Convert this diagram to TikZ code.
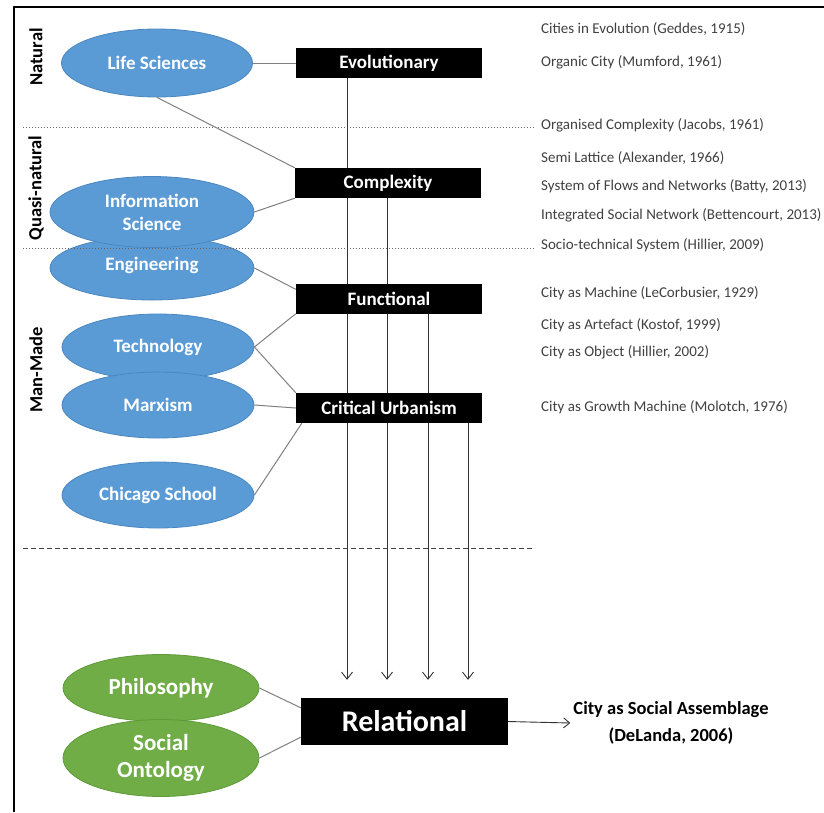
\documentclass[tikz,border=0pt]{standalone}
\usepackage{fontspec}
\setmainfont{Carlito}
\usetikzlibrary{arrows.meta,shapes.geometric}
\definecolor{bluefill}{HTML}{5B9BD5}
\definecolor{blueline}{HTML}{4A86BF}
\definecolor{greenfill}{HTML}{70AD47}
\definecolor{greenline}{HTML}{5E9A38}
\definecolor{reftext}{HTML}{404040}
\definecolor{conn}{HTML}{808080}
\begin{document}
\begin{tikzpicture}[x=1pt,y=-1pt,
  ell/.style={ellipse, fill=bluefill, draw=blueline, line width=0.8pt, text=white,
    font=\bfseries\fontsize{19}{23}\selectfont, inner sep=0pt, align=center},
  gell/.style={ell, fill=greenfill, draw=greenline, font=\bfseries\fontsize{23}{27}\selectfont},
  blackbox/.style={fill=black, text=white, font=\bfseries\fontsize{19}{22}\selectfont,
    minimum width=186pt, minimum height=30pt, inner sep=0pt},
  reflabel/.style={anchor=west, text=reftext, font=\fontsize{15}{17}\selectfont, inner sep=0pt},
  side/.style={rotate=90, font=\bfseries\fontsize{18.5}{20}\selectfont, inner sep=0pt},
  connector/.style={draw=conn, line width=1pt},
  flow/.style={draw=black!80, line width=0.9pt},
  sep/.style={draw=black!60, line width=1pt, dotted},
]
\useasboundingbox (0,0) rectangle (824,812);
% frame
\draw[line width=2pt] (14,812) -- (14,7) -- (824,7);

% side labels
\node[side] (lnat) at (36,57) {Natural};
\node[side] (lquasi) at (36,188) {Quasi-natural};
\node[side] (lman) at (36,370) {Man-Made};

% ellipses
\node[ell, minimum width=191pt, minimum height=68pt] (life) at (157,63) {Life Sciences};
\node[ell, minimum width=204pt, minimum height=64pt] (eng) at (152,268) {};
\node[ell, fill=none, draw=none] (engtext) at (152,265) {Engineering};
\node[ell, minimum width=204pt, minimum height=71pt] (info) at (152,212) {Information\\Science};
\node[ell, minimum width=192pt, minimum height=66pt] (tech) at (158,347) {Technology};
\node[ell, minimum width=192pt, minimum height=66pt] (marx) at (158,405) {Marxism};
\node[ell, minimum width=192pt, minimum height=66pt] (chic) at (158,495) {Chicago School};
\node[gell, minimum width=196pt, minimum height=67pt] (phil) at (161,688) {Philosophy};
\node[gell, minimum width=196pt, minimum height=77pt] (soc) at (161,758) {Social\\Ontology};

% separators
\coordinate (s1a) at (23,127); \coordinate (s1b) at (535,127);
\coordinate (s2a) at (23,248); \coordinate (s2b) at (535,248);
\coordinate (s3a) at (23,548); \coordinate (s3b) at (535,548);
\draw[sep] (s1a) -- (s1b);
\draw[sep] (s2a) -- (s2b);
\draw[draw=black!75, line width=1pt, dash pattern=on 5pt off 3pt] (s3a) -- (s3b);

% x positions of the flows
\coordinate (x1) at (347,0);
\coordinate (x2) at (387,0);
\coordinate (x3) at (428,0);
\coordinate (x4) at (468,0);

% black boxes
\node[blackbox] (evo) at (389,63) {Evolutionary};
\node[blackbox] (cplx) at (388,183) {Complexity};
\node[blackbox] (func) at (389,298.5) {Functional};
\node[blackbox] (crit) at (389,408) {Critical Urbanism};
\node[fill=black, text=white, font=\bfseries\fontsize{30}{32}\selectfont,
  minimum width=207pt, minimum height=47pt, inner sep=0pt] (rel) at (404.5,721.5) {Relational};

% flows
\draw[flow, -{Straight Barb[length=7pt,width=11pt]}, shorten >=18pt] (x1 |- evo.south) -- (x1 |- rel.north);
\draw[flow, -{Straight Barb[length=7pt,width=11pt]}, shorten >=18pt] (x2 |- cplx.south) -- (x2 |- rel.north);
\draw[flow, -{Straight Barb[length=7pt,width=11pt]}, shorten >=18pt] (x3 |- func.south) -- (x3 |- rel.north);
\draw[flow, -{Straight Barb[length=7pt,width=11pt]}, shorten >=18pt] (x4 |- crit.south) -- (x4 |- rel.north);

% redraw boxes on top
\node[blackbox] at (evo) {Evolutionary};
\node[blackbox] at (cplx) {Complexity};
\node[blackbox] at (func) {Functional};
\node[blackbox] at (crit) {Critical Urbanism};

% connectors
\draw[connector] (life.east) -- (evo.west);
\draw[connector] (life.south) -- (cplx.north west);
\draw[connector] (info.east) -- (cplx.south west);
\draw[connector] (eng.east) -- ([yshift=-6pt]func.north west);
\draw[connector] (tech.east) -- (func.south west);
\draw[connector] (tech.east) -- (crit.north west);
\draw[connector] (marx.east) -- (crit.west);
\draw[connector] (chic.east) -- ([xshift=6pt]crit.south west);
\draw[connector] (phil.east) -- ([yshift=-10pt]rel.north west);
\draw[connector] (soc.east) -- ([yshift=8pt]rel.south west);

% output
\node[font=\bfseries\fontsize{18.5}{27}\selectfont, align=center, inner sep=0pt] (cas) at (671,723) {City as Social Assemblage\\(DeLanda, 2006)};
\draw[flow, -{Straight Barb[length=6pt,width=10pt]}] (rel.east) -- ([xshift=-3pt]cas.west);

% references
\node[reflabel] (r1) at (541,29) {Cities in Evolution (Geddes, 1915)};
\node[reflabel] (r2) at (541,62) {Organic City (Mumford, 1961)};
\node[reflabel] (r3) at (541,125) {Organised Complexity (Jacobs, 1961)};
\node[reflabel] (r4) at (541,158) {Semi Lattice (Alexander, 1966)};
\node[reflabel] (r5) at (541,186) {System of Flows and Networks (Batty, 2013)};
\node[reflabel] (r6) at (541,215) {Integrated Social Network (Bettencourt, 2013)};
\node[reflabel] (r7) at (541,245) {Socio-technical System (Hillier, 2009)};
\node[reflabel] (r8) at (541,293) {City as Machine (LeCorbusier, 1929)};
\node[reflabel] (r9) at (541,325) {City as Artefact (Kostof, 1999)};
\node[reflabel] (r10) at (541,352) {City as Object (Hillier, 2002)};
\node[reflabel] (r11) at (541,407) {City as Growth Machine (Molotch, 1976)};
\end{tikzpicture}
\end{document}
